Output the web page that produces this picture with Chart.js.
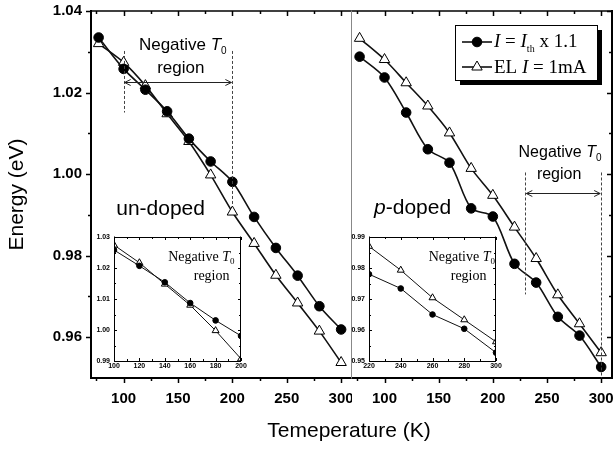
<!DOCTYPE html>
<html>
<head>
  <meta charset="UTF-8" />
  <title>Energy vs temperature</title>
  <script src="https://cdn.jsdelivr.net/npm/chart.js"></script>
  <style>
    body { margin: 0; background: #fff; }
    #figure { position: relative; width: 616px; height: 449px; overflow: hidden; background: #fff; }
    #figure canvas { position: absolute; }
    #xTitle { position: absolute; left: 199px; top: 419px; width: 300px; text-align: center;
      font: 21px Arial, "Liberation Sans", sans-serif; line-height: 21px; color: #000; }
  </style>
</head>
<body>
<div id="figure">
  <canvas id="undopedChart" width="352" height="449" style="left:0;top:0"></canvas>
  <canvas id="pdopedChart" width="265" height="449" style="left:351px;top:0"></canvas>
  <canvas id="undopedInset" width="157" height="141" style="left:94px;top:232px"></canvas>
  <canvas id="pdopedInset" width="157" height="141" style="left:349px;top:232px"></canvas>
  <div id="xTitle">Temeperature (K)</div>
</div>

<script>
  // temperatures (K) and peak energies (eV)
  const temps = [77, 100, 120, 140, 160, 180, 200, 220, 240, 260, 280, 300];
  const undopedLaser = [1.0335, 1.0258, 1.0207, 1.0154, 1.0087, 1.0031, 0.9981, 0.9895, 0.9819, 0.9751, 0.9676, 0.9619];
  const undopedEL    = [1.0320, 1.0274, 1.0217, 1.0148, 1.0080, 0.9998, 0.9907, 0.9830, 0.9752, 0.9684, 0.9615, 0.9538];
  const pdopedLaser  = [1.0288, 1.0237, 1.0151, 1.0061, 1.0028, 0.9916, 0.9896, 0.9780, 0.9734, 0.9650, 0.9604, 0.9527];
  const pdopedEL     = [1.0333, 1.0281, 1.0224, 1.0167, 1.0101, 1.0014, 0.9948, 0.9870, 0.9793, 0.9704, 0.9633, 0.9562];

  const xMajor = [100, 150, 200, 250, 300];
  const xMinor = [75, 125, 175, 225, 275];
  const yMajor = [0.96, 0.98, 1.00, 1.02, 1.04];
  const yMinor = [0.97, 0.99, 1.01, 1.03];

  const undopedInsetX = [100, 120, 140, 160, 180, 200];
  const undopedInsetY = [0.99, 1.00, 1.01, 1.02, 1.03];
  const pdopedInsetX = [220, 240, 260, 280, 300];
  const pdopedInsetY = [0.95, 0.96, 0.97, 0.98, 0.99];

  const sans = 'Arial, "Liberation Sans", sans-serif';
  const serif = '"Times New Roman", "Liberation Serif", serif';

  const pts = (xs, ys) => xs.map((t, i) => ({ x: t, y: ys[i] }));
  const mids = arr => arr.slice(1).map((v, i) => (v + arr[i]) / 2);

  function seriesPair(xs, laser, el, big) {
    return [
      { data: pts(xs, laser), borderColor: '#111', borderWidth: big ? 1.6 : 1, tension: big ? 0.3 : 0,
        pointStyle: 'circle', pointRadius: big ? 4.8 : 2.8, pointBackgroundColor: '#000',
        pointBorderColor: '#000', pointBorderWidth: 1 },
      { data: pts(xs, el), borderColor: '#111', borderWidth: big ? 1.6 : 1, tension: big ? 0.3 : 0,
        pointStyle: 'triangle', pointRadius: big ? 6 : 4, pointBackgroundColor: '#fff',
        pointBorderColor: '#000', pointBorderWidth: 1 }
    ];
  }

  // fixed axis sizes so the plot areas line up with the original figure
  function noPad(s) { s.paddingLeft = 0; s.paddingRight = 0; s.paddingTop = 0; s.paddingBottom = 0; }

  function axisX(min, max, ticks, size, pad, height) {
    return {
      type: 'linear', min, max,
      grid: { display: false, drawTicks: false }, border: { display: false },
      afterBuildTicks: s => { s.ticks = ticks.map(v => ({ value: v })); },
      afterFit: s => { s.height = height; noPad(s); },
      ticks: { autoSkip: false, maxRotation: 0, padding: pad, color: '#000',
        font: { family: sans, size, weight: 'bold' } }
    };
  }

  function axisY(min, max, ticks, size, pad, width) {
    return {
      min, max,
      grid: { display: false, drawTicks: false }, border: { display: false },
      afterBuildTicks: s => { s.ticks = ticks.map(v => ({ value: v })); },
      afterFit: s => { s.width = width; noPad(s); },
      ticks: { autoSkip: false, padding: pad, color: '#000', callback: v => v.toFixed(2),
        font: { family: sans, size, weight: 'bold' } }
    };
  }

  // frame lines and tick marks, placed with the chart's own scales
  function frameTicks(cfg) {
    return {
      id: 'frameTicks',
      afterDatasetsDraw(chart) {
        const { ctx, chartArea: a, scales: { x, y } } = chart;
        ctx.save();
        ctx.strokeStyle = '#000';
        ctx.lineWidth = cfg.tickWidth;
        const seg = (x1, y1, x2, y2) => { ctx.beginPath(); ctx.moveTo(x1, y1); ctx.lineTo(x2, y2); ctx.stroke(); };
        Object.entries(cfg.ticks).forEach(([side, mode]) => {
          const dir = (side === 'bottom' || side === 'right') ? 1 : -1;
          const s = mode === 'out' ? dir : -dir;
          const horiz = side === 'bottom' || side === 'top';
          const groups = horiz ? [[cfg.xMajor, cfg.majorLen], [cfg.xMinor, cfg.minorLen]]
                               : [[cfg.yMajor, cfg.majorLen], [cfg.yMinor, cfg.minorLen]];
          groups.forEach(([vals, len]) => vals.forEach(v => {
            if (horiz) {
              const px = Math.round(x.getPixelForValue(v)) + 0.5;
              const y0 = side === 'bottom' ? a.bottom : a.top;
              seg(px, y0, px, y0 + s * len);
            } else {
              const py = Math.round(y.getPixelForValue(v)) + 0.5;
              const x0 = side === 'left' ? a.left : a.right;
              seg(x0, py, x0 + s * len, py);
            }
          }));
        });
        cfg.edges.forEach(([side, w, color, shift]) => {
          ctx.lineWidth = w;
          ctx.strokeStyle = color;
          const sh = shift || 0;
          if (side === 'top' || side === 'bottom') {
            const p = (side === 'top' ? a.top : a.bottom) + sh;
            seg(a.left, p, a.right, p);
          } else {
            const p = (side === 'left' ? a.left : a.right) + sh;
            seg(p, a.top - w / 2, p, a.bottom + w / 2);
          }
        });
        ctx.restore();
      }
    };
  }

  function notes(draw) {
    return { id: 'notes', afterDraw(chart) { chart.ctx.save(); draw(chart); chart.ctx.restore(); } };
  }

  function richText(ctx, parts, x, y, align) {
    let w = 0;
    parts.forEach(p => { ctx.font = p.f; p.w = ctx.measureText(p.t).width; w += p.w; });
    let cx = align === 'center' ? x - w / 2 : align === 'right' ? x - w : x;
    ctx.fillStyle = '#000';
    ctx.textAlign = 'left';
    ctx.textBaseline = 'alphabetic';
    parts.forEach(p => { ctx.font = p.f; ctx.fillText(p.t, cx, y + (p.dy || 0)); cx += p.w; });
  }

  function vDash(ctx, x, y1, y2) {
    ctx.save();
    ctx.setLineDash([3, 2]);
    ctx.strokeStyle = '#444';
    ctx.lineWidth = 1;
    const px = Math.round(x) + 0.5;
    ctx.beginPath(); ctx.moveTo(px, y1); ctx.lineTo(px, y2); ctx.stroke();
    ctx.restore();
  }

  function hArrow(ctx, x1, x2, y) {
    ctx.save();
    ctx.strokeStyle = '#222';
    ctx.lineWidth = 1;
    const py = Math.round(y) + 0.5;
    ctx.beginPath(); ctx.moveTo(x1 + 1, py); ctx.lineTo(x2 - 1, py); ctx.stroke();
    ctx.beginPath();
    ctx.moveTo(x1 + 7, py - 3); ctx.lineTo(x1 + 1, py); ctx.lineTo(x1 + 7, py + 3);
    ctx.moveTo(x2 - 7, py - 3); ctx.lineTo(x2 - 1, py); ctx.lineTo(x2 - 7, py + 3);
    ctx.stroke();
    ctx.restore();
  }

  const mainTicks = { tickWidth: 1.5, majorLen: 5, minorLen: 3, xMajor, xMinor, yMajor, yMinor };

  const baseOptions = {
    responsive: false,
    animation: false,
    events: [],
    plugins: { legend: { display: false }, tooltip: { enabled: false } }
  };

  // main panel: un-doped
  const yLeft = axisY(0.95, 1.04, yMajor, 15, 9, 91);
  yLeft.title = { display: true, text: 'Energy (eV)', color: '#000',
    font: { family: sans, size: 21 }, padding: { top: 5, bottom: 0 } };

  new Chart(document.getElementById('undopedChart'), {
    type: 'line',
    data: { datasets: seriesPair(temps, undopedLaser, undopedEL, true) },
    options: Object.assign({}, baseOptions, {
      layout: { autoPadding: false, padding: { top: 11, right: 0, bottom: 0, left: 0 } },
      scales: { x: axisX(70, 310, xMajor, 15, 12, 71), y: yLeft }
    }),
    plugins: [
      frameTicks(Object.assign({}, mainTicks, {
        ticks: { bottom: 'out', top: 'in', left: 'out' },
        edges: [['left', 2, '#000'], ['bottom', 2, '#000'], ['top', 1.5, '#000']]
      })),
      notes(chart => {
        const { ctx, scales: { x, y } } = chart;
        const px = v => x.getPixelForValue(v), py = v => y.getPixelForValue(v);
        vDash(ctx, px(100), py(1.0302), py(1.0151));
        vDash(ctx, px(200), py(1.0302), py(0.9926));
        hArrow(ctx, px(100), px(200), py(1.0226));
        richText(ctx, [
          { t: 'Negative ', f: '17px ' + sans },
          { t: 'T', f: 'italic 17px ' + sans },
          { t: '0', f: '10px ' + sans, dy: 4 }
        ], px(154.4), py(1.0304), 'center');
        richText(ctx, [{ t: 'region', f: '17px ' + sans }], px(152.6), py(1.0247), 'center');
        richText(ctx, [{ t: 'un-doped', f: '21px ' + sans }], px(134), py(0.9899), 'center');
      })
    ]
  });

  // main panel: p-doped
  new Chart(document.getElementById('pdopedChart'), {
    type: 'line',
    data: { datasets: seriesPair(temps, pdopedLaser, pdopedEL, true) },
    options: Object.assign({}, baseOptions, {
      layout: { autoPadding: false, padding: { top: 11, right: 4, bottom: 0, left: 1 } },
      scales: {
        x: axisX(70, 310, xMajor, 15, 12, 71),
        y: { display: false, min: 0.95, max: 1.04 }
      }
    }),
    plugins: [
      frameTicks(Object.assign({}, mainTicks, {
        ticks: { bottom: 'out', top: 'in', right: 'in' },
        edges: [['left', 1, '#888', -0.5], ['bottom', 2, '#000'], ['top', 1.5, '#000'], ['right', 2, '#000']]
      })),
      notes(chart => {
        const { ctx, chartArea: a, scales: { x, y } } = chart;
        const px = v => x.getPixelForValue(v), py = v => y.getPixelForValue(v);
        vDash(ctx, px(230), py(1.0004), py(0.9705));
        vDash(ctx, px(300), py(1.0004), py(0.95));
        hArrow(ctx, px(230), px(300), py(0.9953));
        richText(ctx, [
          { t: 'Negative ', f: '16px ' + sans },
          { t: 'T', f: 'italic 16px ' + sans },
          { t: '0', f: '10px ' + sans, dy: 4 }
        ], px(262), py(1.0043), 'center');
        richText(ctx, [{ t: 'region', f: '16px ' + sans }], px(261.2), py(0.9988), 'center');
        richText(ctx, [
          { t: 'p', f: 'italic 21px ' + sans },
          { t: '-doped', f: '21px ' + sans }
        ], px(125.9), py(0.9901), 'center');

        // legend box with shadow
        const bx = a.right - 157, by = a.top + 14, bw = 142, bh = 55;
        ctx.fillStyle = '#000';
        ctx.fillRect(bx + 5, by + 5, bw, bh);
        ctx.fillStyle = '#fff';
        ctx.fillRect(bx, by, bw, bh);
        ctx.strokeStyle = '#000';
        ctx.lineWidth = 1;
        ctx.strokeRect(Math.round(bx) + 0.5, Math.round(by) + 0.5, bw, bh);
        const rows = [by + 17, by + 42];
        rows.forEach((ry, i) => {
          ctx.strokeStyle = '#111';
          ctx.lineWidth = 1.6;
          ctx.beginPath(); ctx.moveTo(bx + 7, ry); ctx.lineTo(bx + 37, ry); ctx.stroke();
          const mx = bx + 22;
          ctx.lineWidth = 1;
          ctx.strokeStyle = '#000';
          ctx.beginPath();
          if (i === 0) {
            ctx.fillStyle = '#000';
            ctx.arc(mx, ry, 4.8, 0, Math.PI * 2);
          } else {
            ctx.fillStyle = '#fff';
            ctx.moveTo(mx, ry - 6);
            ctx.lineTo(mx + 5.2, ry + 3);
            ctx.lineTo(mx - 5.2, ry + 3);
            ctx.closePath();
          }
          ctx.fill();
          ctx.stroke();
        });
        richText(ctx, [
          { t: 'I', f: 'italic 19px ' + serif },
          { t: ' = ', f: '19px ' + serif },
          { t: 'I', f: 'italic 19px ' + serif },
          { t: 'th', f: '10px ' + serif, dy: 5 },
          { t: ' x 1.1', f: '19px ' + serif }
        ], bx + 39, by + 22, 'left');
        richText(ctx, [
          { t: 'EL ', f: '19px ' + serif },
          { t: 'I', f: 'italic 19px ' + serif },
          { t: ' = 1mA', f: '19px ' + serif }
        ], bx + 39, by + 48, 'left');
      })
    ]
  });

  // zoomed insets of the negative T0 regions
  function insetChart(id, xs, laser, el, xTicks, yTicks, negRight, regionRight) {
    new Chart(document.getElementById(id), {
      type: 'line',
      data: { datasets: seriesPair(xs, laser, el, false) },
      options: Object.assign({}, baseOptions, {
        layout: { autoPadding: false, padding: { top: 5, right: 10, bottom: 0, left: 0 } },
        scales: {
          x: axisX(xTicks[0], xTicks[xTicks.length - 1], xTicks, 7, 1, 12),
          y: axisY(yTicks[0], yTicks[yTicks.length - 1], yTicks, 7, 4, 20)
        }
      }),
      plugins: [
        frameTicks({
          tickWidth: 1, majorLen: 3, minorLen: 2,
          xMajor: xTicks, xMinor: mids(xTicks), yMajor: yTicks, yMinor: mids(yTicks),
          ticks: { bottom: 'in', top: 'in', left: 'in', right: 'in' },
          edges: [['left', 1, '#000', 0.5], ['bottom', 1, '#000', 0.5], ['top', 1, '#000', 0.5], ['right', 1, '#000', -0.5]]
        }),
        notes(chart => {
          const { ctx, chartArea: a } = chart;
          richText(ctx, [
            { t: 'Negative ', f: '14px ' + serif },
            { t: 'T', f: 'italic 14px ' + serif },
            { t: '0', f: '9px ' + serif, dy: 3 }
          ], a.right + negRight, a.top + 24, 'right');
          richText(ctx, [{ t: 'region', f: '14px ' + serif }], a.right + regionRight, a.top + 43, 'right');
        })
      ]
    });
  }

  insetChart('undopedInset', temps.slice(1, 7), undopedLaser.slice(1, 7), undopedEL.slice(1, 7),
    undopedInsetX, undopedInsetY, -6.5, -11.5);
  insetChart('pdopedInset', temps.slice(7), pdopedLaser.slice(7), pdopedEL.slice(7),
    pdopedInsetX, pdopedInsetY, -1, -9.5);
</script>
</body>
</html>
